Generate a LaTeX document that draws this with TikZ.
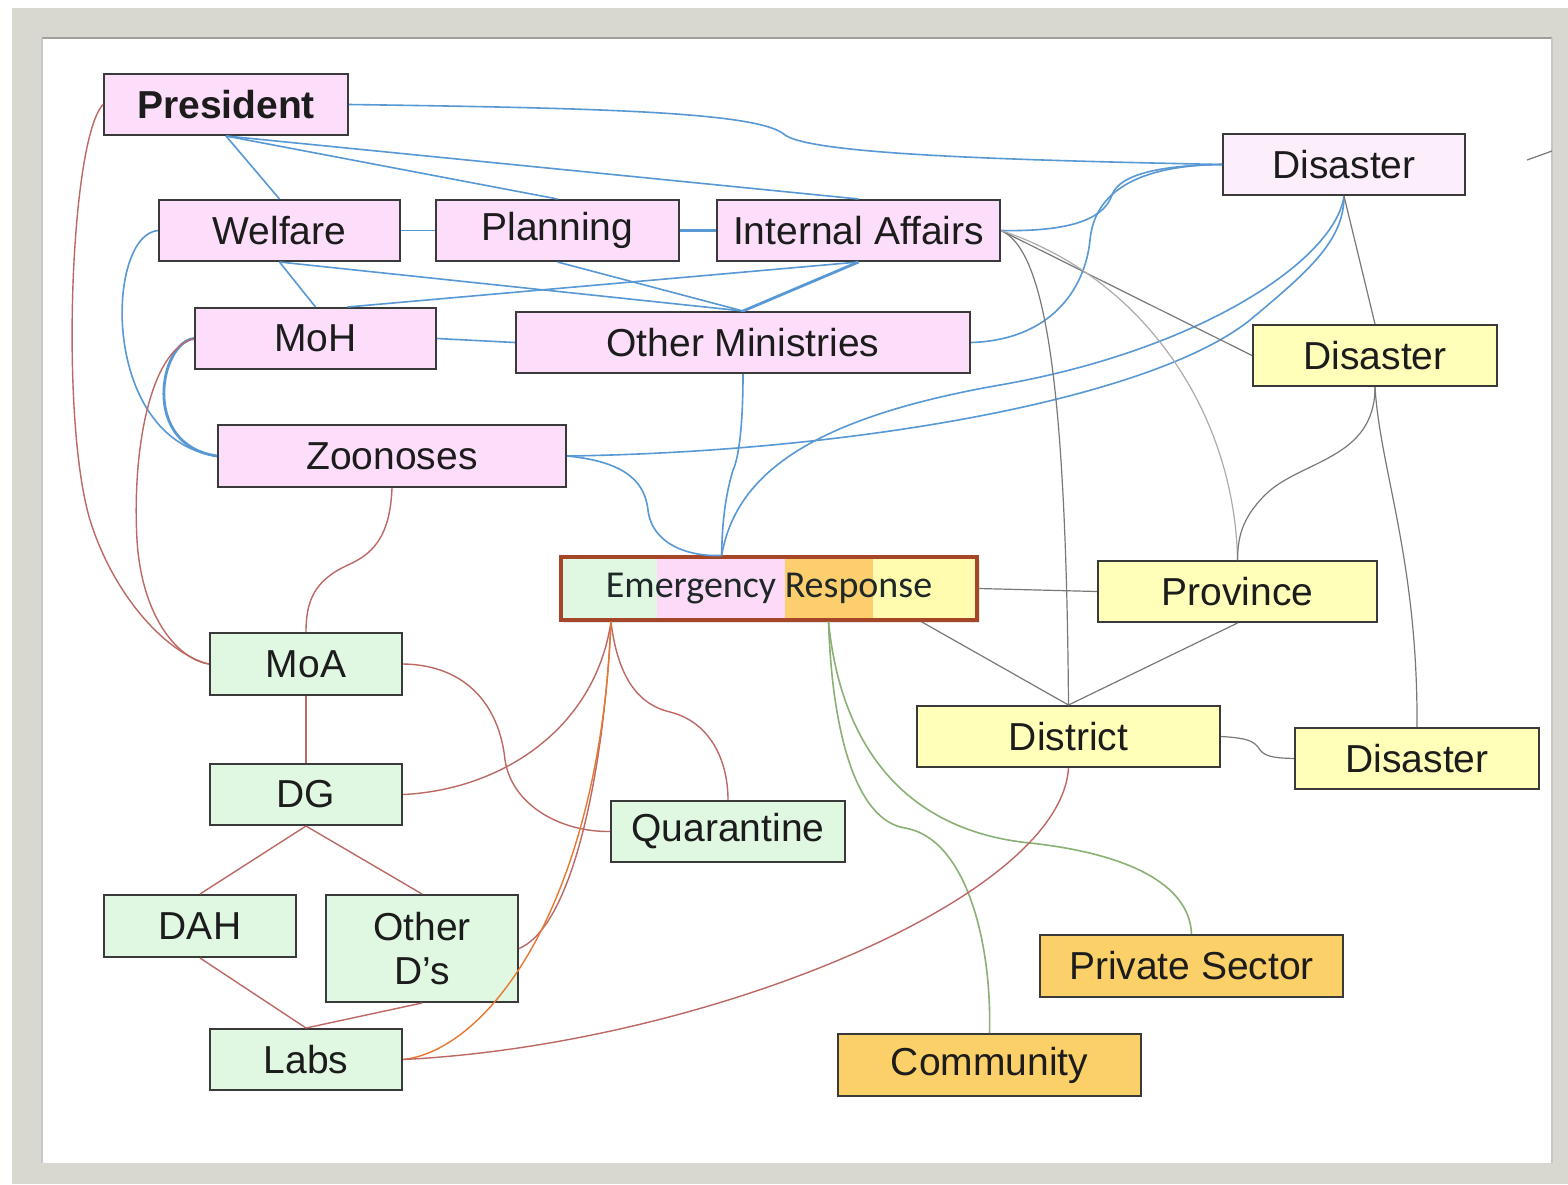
\documentclass[tikz,border=0pt]{standalone}
\usepackage{fontspec}
\setmainfont{Liberation Sans}
\newfontfamily\erfont{Carlito}
\usetikzlibrary{calc}

\definecolor{framegrey}{RGB}{216,215,208}
\definecolor{frameshade}{RGB}{160,160,155}
\definecolor{pinkfill}{RGB}{252,221,250}
\definecolor{palepink}{RGB}{253,238,252}
\definecolor{greenfill}{RGB}{224,248,226}
\definecolor{yellowfill}{RGB}{255,255,186}
\definecolor{orangefill}{RGB}{252,208,104}
\definecolor{erorange}{RGB}{252,206,110}
\definecolor{erpink}{RGB}{252,218,248}
\definecolor{eryellow}{RGB}{255,252,176}
\definecolor{boxline}{RGB}{58,58,58}
\definecolor{txt}{RGB}{28,28,28}
\definecolor{bluelink}{RGB}{88,152,212}
\definecolor{greylink}{RGB}{120,120,120}
\definecolor{lightlink}{RGB}{172,172,172}
\definecolor{redlink}{RGB}{188,104,100}
\definecolor{orangelink}{RGB}{232,120,48}
\definecolor{greenlink}{RGB}{138,176,118}
\definecolor{erline}{RGB}{165,70,40}

\tikzset{
  box/.style={draw=boxline, line width=1pt, inner sep=0pt, text=txt,
    font=\fontsize{19.5}{22}\selectfont},
  pinkbox/.style={box, fill=pinkfill},
  palebox/.style={box, fill=palepink},
  greenbox/.style={box, fill=greenfill},
  yellowbox/.style={box, fill=yellowfill},
  orangebox/.style={box, fill=orangefill},
  blue/.style={draw=bluelink, line width=0.8pt},
  bluethick/.style={draw=bluelink, line width=1.4pt},
  grey/.style={draw=greylink, line width=0.6pt},
  lightgrey/.style={draw=lightlink, line width=0.6pt},
  red/.style={draw=redlink, line width=0.7pt},
  orangeln/.style={draw=orangelink, line width=0.7pt},
  greenln/.style={draw=greenlink, line width=0.8pt},
}

\begin{document}
\begin{tikzpicture}[x=0.5pt, y=-0.5pt]
\useasboundingbox (0,0) rectangle (1568,1184);

% slide frame
\fill[white] (0,0) rectangle (1568,1184);
\fill[framegrey] (12,8) rectangle (1568,1184);
\fill[white] (42,38) rectangle (1552,1163);
\draw[frameshade, line width=1.2pt] (42,38) -- (1552,38);
\draw[frameshade!60, line width=0.8pt] (42,38) -- (42,1163);
\draw[frameshade!60, line width=0.8pt] (1552,38) -- (1552,1163);

% ministries (pink)
\node[pinkbox, minimum width=122pt, minimum height=30.5pt,
      font={\fontsize{19.5}{22}\selectfont\bfseries}] (pres) at (226,104.5) {President};
\node[palebox, minimum width=121pt, minimum height=30.5pt] (dis1) at (1344,164.5) {Disaster};
\node[pinkbox, minimum width=120.5pt, minimum height=30.5pt] (welf) at (279.5,230.5) {Welfare};
\node[pinkbox, minimum width=121.5pt, minimum height=30.5pt] (plan) at (557.5,230.5) {Planning};
\node[pinkbox, minimum width=141.5pt, minimum height=30.5pt] (ia) at (858.5,230.5) {Internal Affairs};
\node[pinkbox, minimum width=120.5pt, minimum height=30.5pt] (moh) at (315.5,338.5) {MoH};
\node[pinkbox, minimum width=227pt, minimum height=30.5pt] (om) at (743,342.5) {Other Ministries};
\node[pinkbox, minimum width=174pt, minimum height=31pt] (zoo) at (392,456) {Zoonoses};

% local government (yellow)
\node[yellowbox, minimum width=122pt, minimum height=30.5pt] (dis2) at (1375,355.5) {Disaster};
\node[yellowbox, minimum width=139.5pt, minimum height=30.5pt] (prov) at (1237.5,591.5) {Province};
\node[yellowbox, minimum width=151.5pt, minimum height=30.5pt] (dist) at (1068.5,736.5) {District};
\node[yellowbox, minimum width=122pt, minimum height=30.5pt] (dis3) at (1417,758.5) {Disaster};

% agriculture (green)
\node[greenbox, minimum width=96pt, minimum height=31pt] (moa) at (306,664) {MoA};
\node[greenbox, minimum width=96pt, minimum height=30.5pt] (dg) at (306,794.5) {DG};
\node[greenbox, minimum width=117pt, minimum height=30.5pt] (quar) at (728,831.5) {Quarantine};
\node[greenbox, minimum width=96pt, minimum height=31pt] (dah) at (200,926) {DAH};
\node[greenbox, minimum width=96pt, minimum height=53.5pt, align=center] (othd) at (422,948.5) {Other\\D’s};
\node[greenbox, minimum width=96pt, minimum height=30.5pt] (labs) at (306,1059.5) {Labs};

% non-government (orange)
\node[orangebox, minimum width=151.5pt, minimum height=31pt] (priv) at (1191.5,966) {Private Sector};
\node[orangebox, minimum width=151.5pt, minimum height=31pt] (comm) at (989.5,1065) {Community};

% emergency response: four coloured bands under one frame
\fill[black!10] (564,560) rectangle (980,623);
\fill[greenfill] (561,557) rectangle (657,620);
\fill[erpink] (657,557) rectangle (785,620);
\fill[erorange] (785,557) rectangle (873,620);
\fill[eryellow] (873,557) rectangle (977,620);
\node[draw=erline, line width=1.6pt, inner sep=0pt, minimum width=208pt, minimum height=31.5pt,
      text={rgb,255:red,30;green,40;blue,40}, font={\erfont\fontsize{19}{22}\selectfont}]
      (er) at (769,588.5) {Emergency Response};

\coordinate (ertop) at ($(er.north west)!0.387!(er.north east)$);
\coordinate (erb1) at ($(er.south west)!0.123!(er.south east)$);
\coordinate (erb2) at ($(er.south west)!0.642!(er.south east)$);
\coordinate (erb3) at ($(er.south west)!0.863!(er.south east)$);

% blue links between ministries
\path[blue] (pres.east) .. controls (600,108) and (760,112) .. (785,135)
            .. controls (812,154) and (1000,160) .. (dis1.west);
\path[blue] (pres.south) -- (welf.north);
\path[blue] (pres.south) -- (plan.north);
\path[blue] (pres.south) -- (ia.north);
\path[blue] (welf.east) -- (plan.west);
\path[bluethick] (plan.east) -- (ia.west);
\path[blue] (welf.south) -- (moh.north);
\path[blue] (welf.south) -- (om.north);
\path[blue] (plan.south) -- (om.north);
\path[bluethick] (ia.south) -- (om.north);
\path[blue] ($(moh.north)+(32,0)$) -- (ia.south);
\path[blue] (moh.east) -- (om.west);
\path[blue] (welf.west) .. controls (105,235) and (100,440) .. (zoo.west);
\path[bluethick] (moh.west) .. controls (160,342) and (140,445) .. (zoo.west);
\path[blue] (ia.east) .. controls (1080,232) and (1105,215) .. (1112,195)
            .. controls (1120,172) and (1170,165) .. (dis1.west);
\path[blue] (om.east) .. controls (1050,340) and (1085,290) .. (1090,240)
            .. controls (1095,185) and (1150,165) .. (dis1.west);
\path[blue] (zoo.east) .. controls (850,452) and (1150,400) .. (1250,320)
            .. controls (1310,270) and (1344,240) .. (dis1.south);
\path[blue] (ertop) .. controls (735,480) and (800,420) .. (1000,385)
            .. controls (1200,350) and (1335,260) .. (dis1.south);
\path[blue] (zoo.east) .. controls (630,462) and (645,485) .. (648,510)
            .. controls (652,545) and (690,557) .. (ertop);
\path[blue] (om.south) .. controls (743,430) and (738,460) .. (733,470)
            .. controls (724,500) and (722,530) .. (ertop);

% grey links of the disaster chain
\path[grey] (ia.east) -- (dis2.west);
\path[grey] (ia.east) .. controls (1045,250) and (1066,380) .. (dist.north);
\path[lightgrey] (ia.east) .. controls (1150,280) and (1235,420) .. (prov.north);
\path[grey] (dis1.south) -- (dis2.north);
\path[grey] (dis2.south) .. controls (1375,460) and (1300,460) .. (1265,495)
            .. controls (1240,520) and (1238,540) .. (prov.north);
\path[grey] (dis2.south) .. controls (1380,470) and (1418,560) .. (dis3.north);
\path[grey] (er.east) -- (prov.west);
\path[grey] (erb3) -- (dist.north);
\path[grey] (prov.south) -- (dist.north);
\path[grey] (dist.east) .. controls (1250,738) and (1255,742) .. (1260,750)
            .. controls (1266,758) and (1280,758) .. (dis3.west);
\coordinate (edgea) at (1527,160);
\coordinate (edgeb) at (1552,151);
\path[grey] (edgea) -- (edgeb);

% green links to community and private sector
\path[greenln] (erb2) .. controls (832,730) and (855,820) .. (905,828)
               .. controls (965,838) and (992,940) .. (comm.north);
\path[greenln] (erb2) .. controls (840,740) and (900,830) .. (1030,843)
               .. controls (1140,855) and (1190,890) .. (priv.north);

% red links of the agriculture side
\path[red] (pres.west) .. controls (70,140) and (60,420) .. (90,520)
           .. controls (115,600) and (170,655) .. (moa.west);
\path[red] (moh.west) .. controls (150,350) and (132,450) .. (137,540)
           .. controls (142,620) and (180,660) .. (moa.west);
\path[red] (zoo.south) .. controls (390,540) and (370,555) .. (348,565)
           .. controls (315,580) and (306,600) .. (moa.north);
\path[red] (moa.south) -- (dg.north);
\path[red] (moa.east) .. controls (470,665) and (500,710) .. (505,760)
           .. controls (512,805) and (560,832) .. (quar.west);
\path[red] (dg.east) .. controls (500,790) and (595,730) .. (erb1);
\path[red] (erb1) .. controls (618,680) and (640,705) .. (670,712)
           .. controls (710,722) and (728,760) .. (quar.north);
\path[red] (dg.south) -- (dah.north);
\path[red] (dg.south) -- (othd.north);
\path[red] (dah.south) -- (labs.north);
\path[red] (othd.south) -- (labs.north);
\path[red] (othd.east) .. controls (575,925) and (605,760) .. (erb1);
\path[orangeln] (labs.east) .. controls (490,1050) and (600,900) .. (erb1);
\path[red] (labs.east) .. controls (700,1045) and (1060,900) .. (dist.south);
\end{tikzpicture}
\end{document}
